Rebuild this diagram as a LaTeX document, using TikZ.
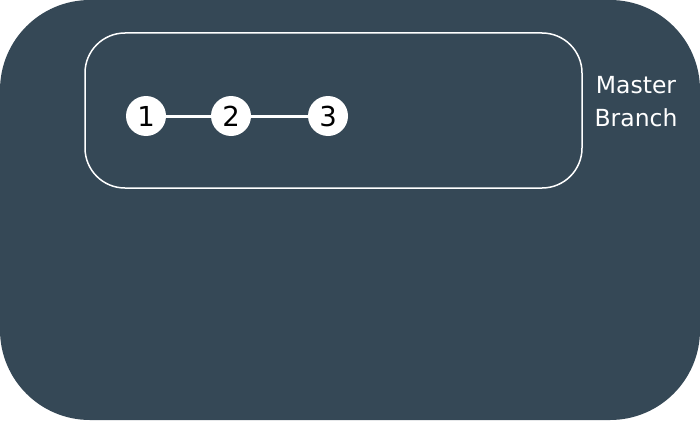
\documentclass[tikz,border=0pt]{standalone}
\usepackage{fontspec}
\setmainfont{DejaVu Sans}
\definecolor{slate}{HTML}{354856}

\begin{document}
\begin{tikzpicture}[x=1pt,y=-1pt,
    commit/.style={circle,fill=white,minimum size=40pt,inner sep=0pt,font=\fontsize{27.5}{30}\selectfont},
    branchlabel/.style={text=white,align=center,inner sep=0pt,font=\fontsize{23.5}{33}\selectfont}]
    \fill[slate,rounded corners=90pt] (0,0) rectangle (700,420);
    \draw[white,line width=1.5pt,rounded corners=40pt] (85,33) rectangle (582,188);

    \node[commit] (1) at (146,116) {1};
    \node[commit] (2) at (231,116) {2};
    \node[commit] (3) at (328,116) {3};
    \node[branchlabel] (master) at (636,102) {Master\\Branch};

    \draw[white,line width=3pt] (1) -- (2) ;
    \draw[white,line width=3pt] (2) -- (3) ;
\end{tikzpicture}
\end{document}
